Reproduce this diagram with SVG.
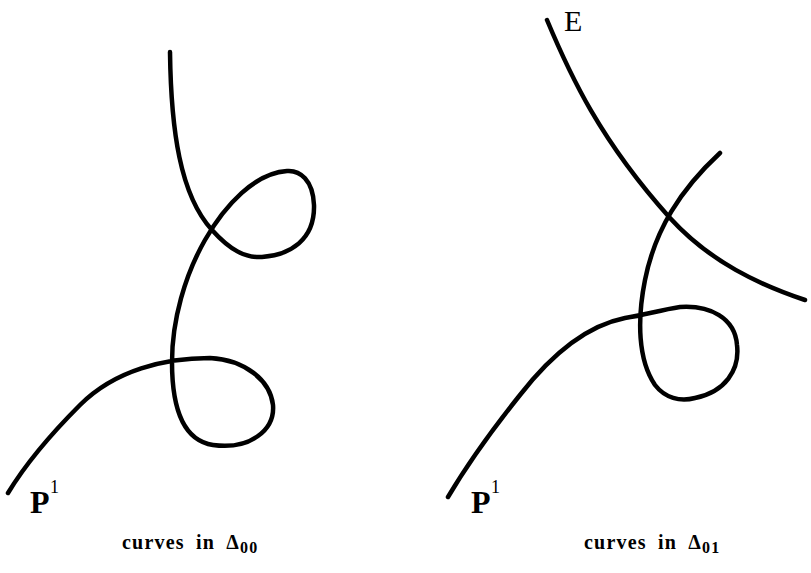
<svg xmlns="http://www.w3.org/2000/svg" width="811" height="573" viewBox="0 0 811 573">
<style>
.c{fill:none;stroke:#000;stroke-width:4.5;stroke-linecap:round;stroke-linejoin:round}
.lab{font-family:"Liberation Serif","DejaVu Serif",serif;fill:#000}
.cap{font-family:"Liberation Serif","DejaVu Serif",serif;font-size:20px;font-weight:bold;letter-spacing:1.2px;word-spacing:5px;fill:#000}
</style>
<rect width="811" height="573" fill="#fff"/>
<g id="connectors">
<path id="left-curve" class="c" d="M170,52 C171,130 180,195 212,230 C230,250 245,258 262,257 C290,255 315,240 314,205 C313,180 300,170 287,171 C255,173 225,205 205,240 C185,275 172,320 172,362 C172,400 180,440 213,445 C250,450 275,430 273,405 C270,380 245,360 210,358 C165,358 115,370 80,405 C50,435 25,465 8,493"/>
<path id="curve-E" class="c" d="M547,20 C570,75 600,140 670,218 C710,262 760,285 805,300"/>
<path id="right-curve" class="c" d="M720,153 C680,190 655,230 645,280 C637,320 638,360 655,385 C665,398 680,402 695,398 C725,392 740,370 737,345 C735,318 710,305 680,307 C660,310 645,315 625,318 C590,325 555,350 520,395 C500,420 470,460 448,497"/>
</g>
<g id="label-P1-left"><text class="lab" x="30" y="513" font-size="32" font-weight="bold">P</text><text class="lab" x="50" y="493" font-size="18">1</text></g>
<g id="label-P1-right"><text class="lab" x="471" y="513" font-size="32" font-weight="bold">P</text><text class="lab" x="491" y="493" font-size="18">1</text></g>
<g id="label-E"><text class="lab" x="564" y="31" font-size="30">E</text></g>
<g id="caption-left"><text class="cap" x="122" y="549">curves in Δ<tspan font-size="16" dy="4">00</tspan></text></g>
<g id="caption-right"><text class="cap" x="584" y="549">curves in Δ<tspan font-size="16" dy="4">01</tspan></text></g>
</svg>
